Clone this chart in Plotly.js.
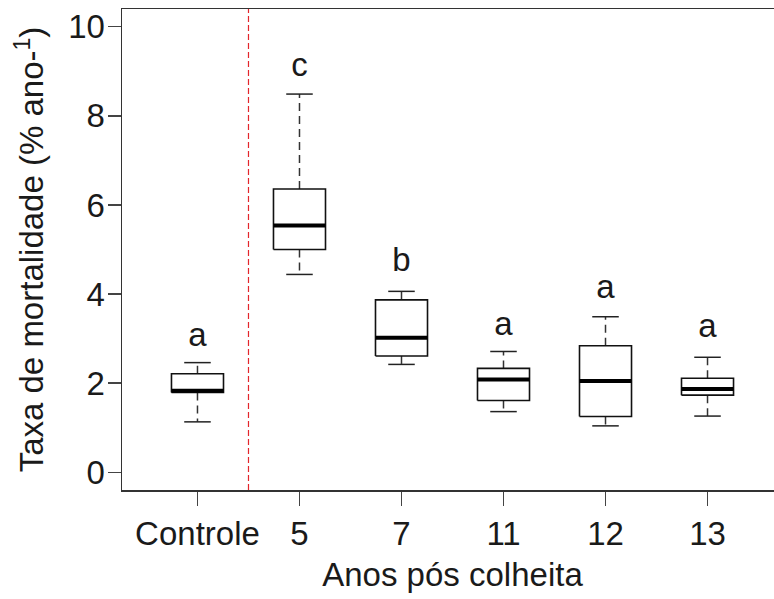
<!DOCTYPE html>
<html>
<head>
<meta charset="utf-8">
<script src="https://cdn.plot.ly/plotly-3.0.1.min.js"></script>
<style>
html, body { margin: 0; padding: 0; overflow: hidden; background: #fff; }
#chart { width: 790px; height: 599px; }
</style>
</head>
<body>
<div id="chart"></div>
<script>
// ---- data ----
const categories = ['Controle', '5', '7', '11', '12', '13'];
const lowerWhisker = [1.13, 4.44, 2.42, 1.36, 1.04, 1.26];
const q1           = [1.79, 5.00, 2.61, 1.61, 1.25, 1.73];
const median       = [1.83, 5.54, 3.02, 2.08, 2.05, 1.87];
const q3           = [2.21, 6.36, 3.87, 2.33, 2.84, 2.11];
const upperWhisker = [2.46, 8.49, 4.06, 2.71, 3.49, 2.58];
const letters      = ['a', 'c', 'b', 'a', 'a', 'a'];
const letterY      = [3.02, 9.09, 4.71, 3.27, 4.10, 3.22];
const dividerAt = 0.5; // between Controle and 5

// ---- geometry (style) ----
const halfBox = 0.255;
const halfCap = 0.13;

const pos = categories.map((c, i) => i);

const boxX = [], boxY = [], medX = [], medY = [], whX = [], whY = [], capX = [], capY = [];
pos.forEach((p, i) => {
  boxX.push(p - halfBox, p + halfBox, p + halfBox, p - halfBox, p - halfBox, null);
  boxY.push(q1[i], q1[i], q3[i], q3[i], q1[i], null);
  medX.push(p - halfBox, p + halfBox, null);
  medY.push(median[i], median[i], null);
  whX.push(p, p, null, p, p, null);
  whY.push(q3[i], upperWhisker[i], null, q1[i], lowerWhisker[i], null);
  capX.push(p - halfCap, p + halfCap, null, p - halfCap, p + halfCap, null);
  capY.push(upperWhisker[i], upperWhisker[i], null, lowerWhisker[i], lowerWhisker[i], null);
});

const font = 'Liberation Sans, Arial, sans-serif';
const txt = '#1a1a1a';
const fs = 33;

const traces = [
  { x: whX, y: whY, mode: 'lines', line: { color: '#333', width: 1.5, dash: '8px,5px' }, hoverinfo: 'skip', showlegend: false },
  { x: capX, y: capY, mode: 'lines', line: { color: '#222', width: 1.5 }, hoverinfo: 'skip', showlegend: false },
  { x: boxX, y: boxY, mode: 'lines', line: { color: '#111', width: 1.6 }, hoverinfo: 'skip', showlegend: false },
  { x: medX, y: medY, mode: 'lines', line: { color: '#000', width: 4 }, hoverinfo: 'skip', showlegend: false },
  { x: pos, y: letterY, mode: 'text', text: letters, textposition: 'middle center',
    textfont: { family: font, size: fs, color: txt }, hoverinfo: 'skip', showlegend: false }
];

const layout = {
  width: 790, height: 599,
  margin: { l: 122, r: 7, t: 9, b: 109 },
  paper_bgcolor: '#fff', plot_bgcolor: '#fff',
  font: { family: font, size: fs, color: txt },
  xaxis: {
    range: [-0.74, 5.74],
    tickvals: pos, ticktext: categories,
    showgrid: false, zeroline: false,
    showline: true, mirror: true, linecolor: '#333', linewidth: 1.5,
    ticks: 'outside', ticklen: 14, tickwidth: 1.3, tickcolor: '#444',
    tickfont: { family: font, size: fs, color: txt },
    title: { text: 'Anos pós colheita', font: { family: font, size: fs, color: txt }, standoff: 12 }
  },
  yaxis: {
    range: [-0.4, 10.4],
    tickvals: [0, 2, 4, 6, 8, 10],
    showgrid: false, zeroline: false,
    showline: true, mirror: true, linecolor: '#333', linewidth: 1.5,
    ticks: 'outside', ticklen: 13, tickwidth: 1.3, tickcolor: '#444',
    ticklabelstandoff: -4,
    tickfont: { family: font, size: fs, color: txt },
    title: { text: 'Taxa de mortalidade (% ano-<sup>1</sup>)', font: { family: font, size: fs, color: txt }, standoff: 14 }
  },
  shapes: [
    { type: 'line', xref: 'x', yref: 'paper', x0: dividerAt, x1: dividerAt, y0: 0, y1: 1,
      line: { color: '#e3262b', width: 1.2, dash: '6px,3px' } }
  ]
};

Plotly.newPlot('chart', traces, layout, { displayModeBar: false, staticPlot: true });
</script>
</body>
</html>
